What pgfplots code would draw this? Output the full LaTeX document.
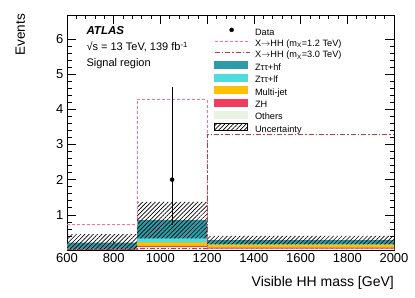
\documentclass[border=0pt]{standalone}
\usepackage{fontspec}
\setmainfont{Liberation Sans}
\usepackage{pgfplots}
\pgfplotsset{compat=1.18}
\usetikzlibrary{patterns.meta}
\definecolor{hfc}{HTML}{2E9CA8}
\definecolor{lfc}{HTML}{4FDCDC}
\definecolor{mjc}{HTML}{FFC000}
\definecolor{zhc}{HTML}{F23D5E}
\definecolor{othc}{HTML}{E9F3E1}
\definecolor{sigA}{HTML}{FF6F91}
\definecolor{sigB}{HTML}{D0304F}
\newcommand{\arr}{\ensuremath{\rightarrow}}
\begin{document}
\begin{tikzpicture}
\begin{axis}[name=ax, at={(0,0)}, anchor=south west, scale only axis,
  width=327pt, height=235pt,
  xmin=600, xmax=2000, ymin=0, ymax=6.68,
  xtick={600,800,...,2000}, minor x tick num=4,
  ytick={0,1,...,6}, yticklabels={,1,2,3,4,5,6}, minor y tick num=4,
  tick align=inside, tick pos=both,
  major tick length=9pt, minor tick length=4.5pt,
  /pgf/number format/assume math mode=true,
  /pgf/number format/1000 sep={},
  tick label style={font=\fontsize{13}{15}\selectfont},
  axis line style={line width=0.6pt},
  every tick/.style={line width=0.6pt, black},
  legend style={at={(rel axis cs:0.4495,0.949)}, anchor=north west, draw=none, fill=none,
    inner sep=0pt, column sep=5pt, row sep=0pt, font=\fontsize{9.2}{10}\selectfont,
    nodes={inner sep=0pt, text height=8pt, text depth=3.4pt}},
  legend cell align=left,
]
% stacked backgrounds (cumulative)
\addplot[const plot, fill=hfc, draw=none, forget plot] coordinates {(600,0.21) (900,0.85) (1200,0.28) (2000,0.28)} \closedcycle;
\addplot[const plot, fill=lfc, draw=none, forget plot] coordinates {(600,0.03) (900,0.33) (1200,0.17) (2000,0.17)} \closedcycle;
\addplot[const plot, fill=mjc, draw=none, forget plot] coordinates {(600,0.02) (900,0.22) (1200,0.15) (2000,0.15)} \closedcycle;
\addplot[const plot, fill=zhc, draw=none, forget plot] coordinates {(600,0.02) (900,0.12) (1200,0.07) (2000,0.07)} \closedcycle;
\addplot[const plot, fill=othc, draw=none, forget plot] coordinates {(600,0.005) (900,0.085) (1200,0.03) (2000,0.03)} \closedcycle;
% uncertainty band
\addplot[draw=none, pattern={Lines[angle=45,distance=3pt,line width=0.65pt]}, forget plot]
  coordinates {(600,0) (600,0.45) (900,0.45) (900,1.37) (1200,1.37) (1200,0.40) (2000,0.40) (2000,0.16) (1200,0.16) (1200,0.33) (900,0.33) (900,0)} -- cycle;
% signals
\addplot[const plot, sigA, dash pattern=on 3pt off 2pt, line width=0.9pt, forget plot]
  coordinates {(600,0.74) (900,4.28) (1200,0.04) (2000,0.04)};
\addplot[const plot, sigB, dash pattern=on 5pt off 2pt on 1.5pt off 2pt, line width=0.9pt, forget plot]
  coordinates {(600,0.01) (900,0.03) (1200,3.28) (2000,3.28)};
% data
\addplot[only marks, mark=*, mark size=2pt, black, forget plot,
  error bars/.cd, y dir=both, y explicit, error mark=none, error bar style={line width=0.8pt, black}]
  coordinates {(1050,2) += (0,2.64) -= (0,1.29)};
% legend
\addlegendimage{legend image code/.code={\fill[black] (17pt,3pt) circle (2pt);}}
\addlegendentry{Data}
\addlegendimage{legend image code/.code={\draw[sigA, dash pattern=on 3pt off 2pt, line width=0.9pt] (0pt,3pt) -- (35pt,3pt);}}
\addlegendentry{X\arr HH (m\textsubscript{X}=1.2 TeV)}
\addlegendimage{legend image code/.code={\draw[sigB, dash pattern=on 5pt off 2pt on 1.5pt off 2pt, line width=0.9pt] (0pt,3pt) -- (35pt,3pt);}}
\addlegendentry{X\arr HH (m\textsubscript{X}=3.0 TeV)}
\addlegendimage{legend image code/.code={\fill[hfc] (0pt,-0.5pt) rectangle (33pt,6.5pt);}}
\addlegendentry{Zττ+hf}
\addlegendimage{legend image code/.code={\fill[lfc] (0pt,-0.5pt) rectangle (33pt,6.5pt);}}
\addlegendentry{Zττ+lf}
\addlegendimage{legend image code/.code={\fill[mjc] (0pt,-0.5pt) rectangle (33pt,6.5pt);}}
\addlegendentry{Multi-jet}
\addlegendimage{legend image code/.code={\fill[zhc] (0pt,-0.5pt) rectangle (33pt,6.5pt);}}
\addlegendentry{ZH}
\addlegendimage{legend image code/.code={\fill[othc] (0pt,-0.5pt) rectangle (33pt,6.5pt);}}
\addlegendentry{Others}
\addlegendimage{legend image code/.code={\fill[pattern={Lines[angle=45,distance=3pt,line width=0.65pt]}] (0pt,-0.5pt) rectangle (33pt,6.5pt);}}
\addlegendentry{Uncertainty}
\end{axis}
\node[anchor=base west, font=\fontsize{11.5}{13}\selectfont\bfseries\itshape] at ([xshift=16pt,yshift=-20pt]ax.north west) {ATLAS};
\node[anchor=base west, font=\fontsize{11}{13}\selectfont] at ([xshift=16pt,yshift=-36pt]ax.north west) {√s = 13 TeV, 139 fb\textsuperscript{-1}};
\node[anchor=base west, font=\fontsize{11}{13}\selectfont] at ([xshift=16pt,yshift=-51.5pt]ax.north west) {Signal region};
\node[rotate=90, anchor=base east, inner sep=0pt, font=\fontsize{13.5}{15}\selectfont] at ([xshift=-42pt,yshift=1pt]ax.north west) {Events};
\node[anchor=base east, inner sep=0pt, font=\fontsize{14}{16}\selectfont] at ([yshift=-37pt]ax.south east) {Visible HH mass [GeV]};
\pgfresetboundingbox
\path[use as bounding box] ([xshift=-67pt,yshift=-48pt]ax.south west) rectangle ([xshift=21pt,yshift=15pt]ax.north east);
\end{tikzpicture}
\end{document}
